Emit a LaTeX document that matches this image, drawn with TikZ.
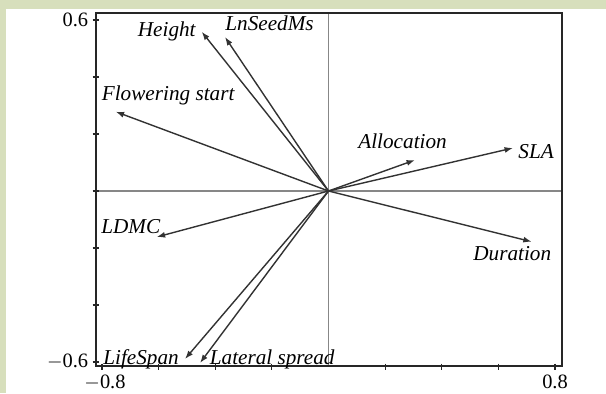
\documentclass[tikz,border=0pt]{standalone}
\usepackage{fontspec}
\setmainfont{Liberation Serif}
\usetikzlibrary{arrows.meta}
\definecolor{pagegreen}{RGB}{215,223,188}
\definecolor{vecgray}{RGB}{50,50,50}
\definecolor{axisgray}{RGB}{135,135,135}
\tikzset{
  frameline/.style={draw=black!85, line width=0.85pt},
  zeroaxis/.style={draw=axisgray, line width=0.75pt},
  tickmark/.style={draw=black!85, line width=0.6pt},
  vec/.style={draw=vecgray, line width=0.7pt, -{Latex[length=4.2pt,width=3pt]}},
  lab/.style={font=\fontsize{10.6}{12}\selectfont\itshape, inner sep=0pt},
  ticklab/.style={font=\fontsize{10.2}{12}\selectfont, inner sep=0pt}
}
\begin{document}
\begin{tikzpicture}[x=0.5pt,y=-0.5pt]
\useasboundingbox (0,0) rectangle (606,393);
% page edge
\fill[pagegreen] (0,0) rectangle (606,9);
\fill[pagegreen] (0,0) rectangle (6,393);
% plot box and zero axes
\draw[zeroaxis] (96,191) -- (562,191);
\draw[zeroaxis] (328.5,13) -- (328.5,366);
\draw[frameline] (96,13) rectangle (562,366);
% ticks on the left axis
\foreach \ty in {20,77,134,191,248,305,362}
  \draw[tickmark] (92.5,\ty) -- (98.5,\ty);
% ticks on the bottom axis
\foreach \tx in {102,158.6,215.2,271.8,385.2,441.8,498.4,555}
  \draw[tickmark] (\tx,363.5) -- (\tx,370);
% tick labels
\node[ticklab, anchor=east] (y1) at (88.5,20) {0.6};
\node[ticklab, anchor=east] (y2) at (88.5,362) {$-$0.6};
\node[ticklab, anchor=north] (x1) at (105,375) {$-$0.8};
\node[ticklab, anchor=north] (x2) at (555,375) {0.8};
% loading vectors
\coordinate (o) at (328.5,191);
\coordinate (tHeight) at (201.7,31.7);
\coordinate (tSeed) at (225,37);
\coordinate (tFlow) at (115.7,111.7);
\coordinate (tAlloc) at (415,160);
\coordinate (tSLA) at (513,148);
\coordinate (tDur) at (531.7,241.7);
\coordinate (tLDMC) at (156.7,237);
\coordinate (tLife) at (185,359);
\coordinate (tLat) at (200,363);
\foreach \t in {tHeight,tSeed,tFlow,tAlloc,tSLA,tDur,tLDMC,tLife,tLat}
  \draw[vec] (o) -- (\t);
% vector labels
\node[lab, anchor=base west] (lHeight) at (137.5,36) {Height};
\node[lab, anchor=base west] (lSeed) at (225,30) {LnSeedMs};
\node[lab, anchor=base west] (lFlow) at (101.5,100.5) {Flowering start};
\node[lab, anchor=base west] (lAlloc) at (358,148) {Allocation};
\node[lab, anchor=base west] (lSLA) at (518,158) {SLA};
\node[lab, anchor=base west] (lDur) at (473,260) {Duration};
\node[lab, anchor=base west] (lLDMC) at (101,233) {LDMC};
\node[lab, anchor=base west] (lLife) at (103,364.5) {LifeSpan};
\node[lab, anchor=base west] (lLat) at (209.5,364.5) {Lateral spread};
\end{tikzpicture}
\end{document}
